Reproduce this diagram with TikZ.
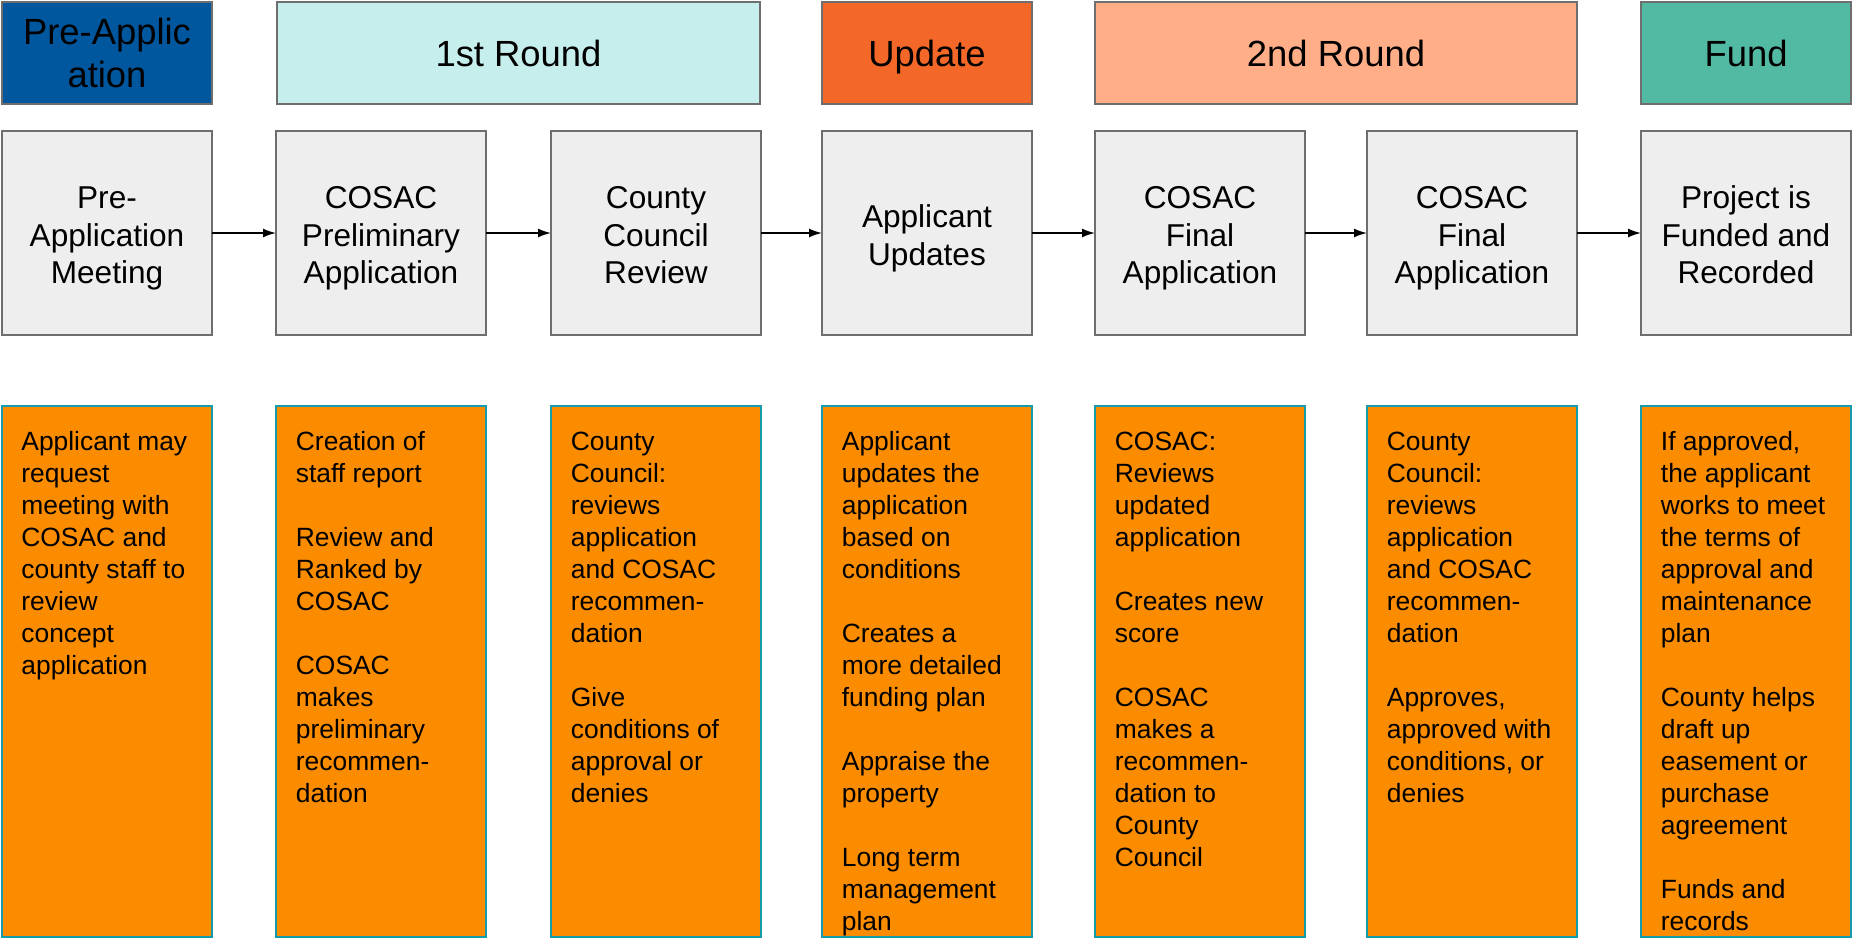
\documentclass[tikz,border=0pt]{standalone}
\usepackage{fontspec}
\setmainfont{Liberation Sans}
\usetikzlibrary{arrows.meta}
\definecolor{preblue}{RGB}{0,87,158}
\definecolor{firstcyan}{RGB}{198,238,236}
\definecolor{updorange}{RGB}{243,104,40}
\definecolor{secondsalmon}{RGB}{255,174,136}
\definecolor{fundteal}{RGB}{82,185,163}
\definecolor{stagegray}{RGB}{238,238,238}
\definecolor{edgegray}{RGB}{110,110,110}
\definecolor{noteorange}{RGB}{251,140,0}
\definecolor{noteedge}{RGB}{20,155,172}
\newcommand{\notetext}[1]{\parbox[t]{100pt}{\raggedright #1}}
\newcommand{\steplines}[1]{\rule{0pt}{18.8pt}#1\rule[-5.7pt]{0pt}{5.7pt}}

\begin{document}
\begin{tikzpicture}[x=0.5pt,y=-0.5pt]
    \tikzstyle{phase}=[draw=edgegray,line width=1pt,inner sep=0pt,outer sep=0pt,minimum height=51pt,align=center,font=\fontsize{18.2}{21.3}\selectfont];
    \tikzstyle{stage}=[draw=edgegray,fill=stagegray,line width=1pt,inner sep=0pt,outer sep=0pt,minimum width=105pt,minimum height=102pt,align=center,font=\fontsize{15.8}{18.9}\selectfont];
    \tikzstyle{detail}=[draw=noteedge,fill=noteorange,line width=0.75pt,inner sep=0pt,outer sep=0pt,minimum width=105pt,minimum height=265.5pt];
    \tikzstyle{note}=[anchor=base west,inner sep=0pt,font=\fontsize{13.2}{16}\selectfont];
    \tikzstyle{flow}=[-{Latex[length=6.5pt,width=4.5pt]},line width=0.8pt];
    \useasboundingbox (0,0) rectangle (1853,938);

    % phase headers
    \node (hpre) [phase,fill=preblue,minimum width=105pt] at (107,53) {Pre-Applic\\ation};
    \node (hfirst) [phase,fill=firstcyan,minimum width=241.5pt] at (518.5,53) {1st Round};
    \node (hupd) [phase,fill=updorange,minimum width=105pt,text depth=0pt] at (927,53) {Update};
    \node (hsecond) [phase,fill=secondsalmon,minimum width=241pt] at (1336,53) {2nd Round};
    \node (hfund) [phase,fill=fundteal,minimum width=105pt] at (1746,53) {Fund};

    % steps
    \node (s1) [stage] at (107,233) {\steplines{Pre-\\Application\\Meeting}};
    \node (s2) [stage] at (381,233) {\steplines{COSAC\\Preliminary\\Application}};
    \node (s3) [stage] at (656,233) {\steplines{County\\Council\\Review}};
    \node (s4) [stage] at (927,233) {\steplines{Applicant\\Updates}};
    \node (s5) [stage] at (1200,233) {\steplines{COSAC\\Final\\Application}};
    \node (s6) [stage] at (1472,233) {\steplines{COSAC\\Final\\Application}};
    \node (s7) [stage] at (1746,233) {\steplines{Project is\\Funded and\\Recorded}};

    \foreach \i/\j in {1/2,2/3,3/4,4/5,5/6,6/7}{
        \draw [flow] (s\i) -- (s\j);
    }

    % details
    \foreach \k/\x in {1/107,2/381,3/656,4/927,5/1200,6/1472,7/1746}{
        \node (d\k) [detail] at (\x,671.5) {};
    }

    \node (t1) [note] at (21,450) {\notetext{Applicant may\\request\\meeting with\\COSAC and\\county staff to\\review\\concept\\application}};
    \node (t2) [note] at (295.5,450) {\notetext{Creation of\\staff report\\[\baselineskip]Review and\\Ranked by\\COSAC\\[\baselineskip]COSAC\\makes\\preliminary\\recommen-\\dation}};
    \node (t3) [note] at (570.5,450) {\notetext{County\\Council:\\reviews\\application\\and COSAC\\recommen-\\dation\\[\baselineskip]Give\\conditions of\\approval or\\denies}};
    \node (t4) [note] at (841.5,450) {\notetext{Applicant\\updates the\\application\\based on\\conditions\\[\baselineskip]Creates a\\more detailed\\funding plan\\[\baselineskip]Appraise the\\property\\[\baselineskip]Long term\\management\\plan}};
    \node (t5) [note] at (1114.5,450) {\notetext{COSAC:\\Reviews\\updated\\application\\[\baselineskip]Creates new\\score\\[\baselineskip]COSAC\\makes a\\recommen-\\dation to\\County\\Council}};
    \node (t6) [note] at (1386.5,450) {\notetext{County\\Council:\\reviews\\application\\and COSAC\\recommen-\\dation\\[\baselineskip]Approves,\\approved with\\conditions, or\\denies}};
    \node (t7) [note] at (1660.5,450) {\notetext{If approved,\\the applicant\\works to meet\\the terms of\\approval and\\maintenance\\plan\\[\baselineskip]County helps\\draft up\\easement or\\purchase\\agreement\\[\baselineskip]Funds and\\records}};

\end{tikzpicture}
\end{document}
